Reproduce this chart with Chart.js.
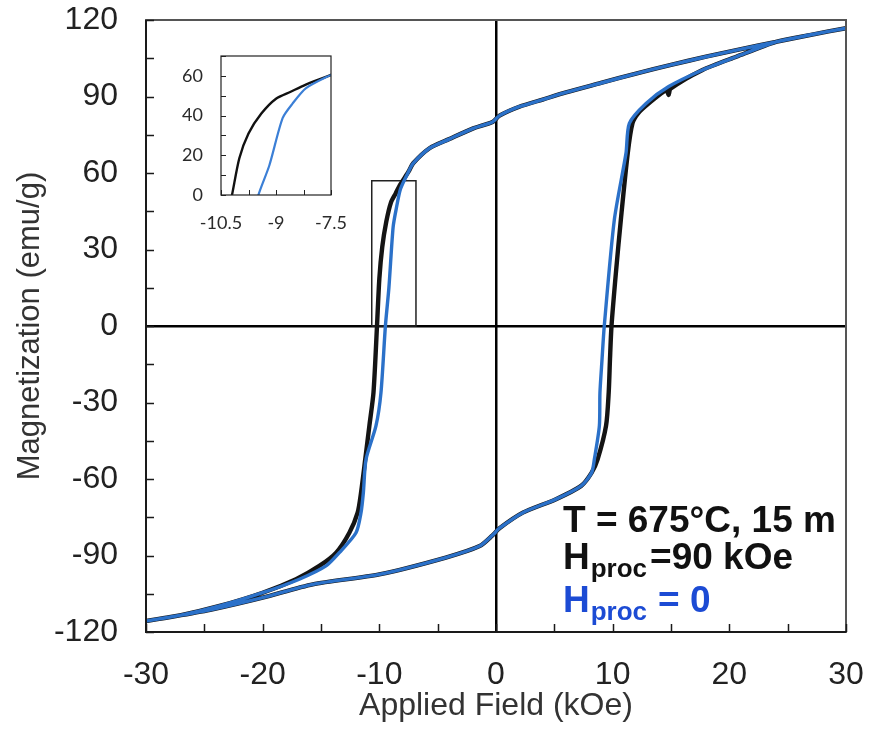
<!DOCTYPE html>
<html>
<head>
<meta charset="utf-8">
<script src="https://cdn.jsdelivr.net/npm/chart.js@4.4.0/dist/chart.umd.min.js"></script>
<style>
  html, body { margin: 0; padding: 0; background: #fff; }
  #wrap { position: relative; width: 869px; height: 731px; }
  #main { position: absolute; left: 0; top: 0; }
  #inset { position: absolute; left: 150px; top: 40px; }
</style>
</head>
<body>
<div id="wrap">
  <canvas id="main" width="869" height="731"></canvas>
  <canvas id="inset" width="200" height="200"></canvas>
</div>
<script>
// upper branch, field sweeping down from +30 kOe (both samples lie on top of each other)
const upperField  = [30, 27, 24, 21, 18, 15, 12, 9, 6, 4, 2, 0.3, -0.3, -2, -4, -5.7, -7.1, -7.5];
const upperMoment = [116.8, 114.2, 111.4, 108.6, 105.6, 102.4, 99.0, 95.3, 91.6, 88.8, 86.0, 82.5, 80.0, 77.4, 73.3, 69.7, 63.8, 60.5];

// lower branch, field sweeping up from -30 kOe (shared part)
const lowerField  = [-30, -27, -24.3, -20, -15.7, -10, -4.3, -1.4, -0.3, 0.3, 2.3, 5.1, 7.3, 8.2];
const lowerMoment = [-115.7, -113.4, -111.1, -106.5, -101.3, -97.4, -90.8, -86.3, -82.1, -79.3, -73.2, -68.0, -62.7, -57.5];

// Hproc = 90 kOe, switching parts of the loop
const blackDownField  = [-8.2, -8.6, -9.0, -9.4, -9.75, -10.0, -10.2, -10.5, -10.85, -11.2, -11.57, -11.86, -12.57, -13.7, -15.14, -17.14, -20, -23.7, -27, -30];
const blackDownMoment = [55.5, 52, 48.5, 41, 31, 18.5, 0, -26, -39, -52, -65.4, -73.2, -81.1, -88.9, -94.1, -99.3, -104.6, -109.8, -113.4, -115.7];
const blackUpField  = [8.71, 9.43, 9.66, 9.77, 9.9, 10.3, 10.7, 11.29, 11.7, 12.2, 13.1, 14.6, 14.8, 14.95, 17.7, 20.6, 24, 27, 30];
const blackUpMoment = [-52.3, -39.2, -26.1, -13, 0, 22, 41.6, 67.7, 79.5, 83.5, 87.3, 92.6, 90.6, 93.0, 100.4, 105.6, 111.4, 114.2, 116.8];

// Hproc = 0, switching parts of the loop
const blueDownField  = [-8.18, -8.55, -8.82, -9.18, -9.48, -9.86, -10.29, -11.14, -11.37, -11.57, -12.0, -13.43, -14.57, -16.86, -20, -23.7, -27, -30];
const blueDownMoment = [53.8, 46, 38.7, 15, 0, -26.1, -39.2, -52.3, -65.4, -73.2, -81.1, -88.9, -94.1, -99.3, -104.6, -109.8, -113.4, -115.7];
const blueUpField  = [8.43, 8.86, 8.91, 9.09, 9.28, 10.14, 11.14, 11.43, 12.86, 14.8, 17.7, 20.6, 24, 27, 30];
const blueUpMoment = [-52.3, -39.2, -26.1, -13, 0, 41.6, 67.7, 79.5, 87.3, 93.9, 100.4, 105.6, 111.4, 114.2, 116.8];

// zoom window marked on the main plot
const boxField  = [-10.65, -6.86, -6.86, -10.65, -10.65];
const boxMoment = [0, 0, 57, 57, 0];

const xTicks = [-30, -20, -10, 0, 10, 20, 30];
const yTicks = [-120, -90, -60, -30, 0, 30, 60, 90, 120];
const insetXTicks = [-10.5, -9, -7.5];
const insetYTicks = [0, 20, 40, 60];

function toPoints(fields, moments) {
  return fields.map((f, i) => ({ x: f, y: moments[i] }));
}

const blackLoop = toPoints(
  upperField.concat(blackDownField, lowerField, blackUpField),
  upperMoment.concat(blackDownMoment, lowerMoment, blackUpMoment)
);
const blueLoop = toPoints(
  upperField.concat(blueDownField, lowerField, blueUpField),
  upperMoment.concat(blueDownMoment, lowerMoment, blueUpMoment)
);

const BLACK = '#141414';
const BLUE = '#2b71c9';
const SANS = "'Liberation Sans', Arial, sans-serif";

// frame, inward tick marks and tick labels (labels drawn here so they
// don't push the plot area around)
const frameTicks = {
  id: 'frameTicks',
  afterDatasetsDraw(chart, args, opts) {
    const { ctx, chartArea: a, scales: { x, y } } = chart;
    ctx.save();
    ctx.strokeStyle = opts.frameColor;
    ctx.lineWidth = opts.width;
    ctx.strokeRect(a.left, a.top, a.right - a.left, a.bottom - a.top);
    if (opts.axisColor) {
      ctx.strokeStyle = opts.axisColor;
      ctx.beginPath();
      ctx.moveTo(a.left, a.top);
      ctx.lineTo(a.left, a.bottom);
      ctx.lineTo(a.right, a.bottom);
      ctx.stroke();
    }
    ctx.beginPath();
    x.ticks.forEach(t => {
      const px = Math.round(x.getPixelForValue(t.value)) + 0.5;
      ctx.moveTo(px, a.bottom);
      ctx.lineTo(px, a.bottom - opts.len);
    });
    y.ticks.forEach(t => {
      const py = Math.round(y.getPixelForValue(t.value)) + 0.5;
      ctx.moveTo(a.left, py);
      ctx.lineTo(a.left + opts.len, py);
    });
    ctx.lineWidth = opts.tickWidth;
    ctx.stroke();

    ctx.fillStyle = opts.labelColor;
    ctx.font = opts.font;
    ctx.textBaseline = 'middle';
    ctx.textAlign = 'center';
    opts.xLabels.forEach(v => {
      ctx.fillText(String(v), x.getPixelForValue(v), a.bottom + opts.xPad);
    });
    ctx.textAlign = 'right';
    opts.yLabels.forEach(v => {
      ctx.fillText(String(v), a.left - opts.yPad, y.getPixelForValue(v));
    });
    ctx.restore();
  }
};

// sample description in the lower right corner
const sampleNote = {
  id: 'sampleNote',
  afterDraw(chart) {
    const ctx = chart.ctx;
    const big = 'bold 37px ' + SANS;
    const small = 'bold 26px ' + SANS;
    ctx.save();
    ctx.textBaseline = 'alphabetic';
    ctx.textAlign = 'left';
    ctx.fillStyle = '#111';
    ctx.font = big;
    ctx.fillText('T = 675°C, 15 m', 563, 532);

    const rows = [
      { rest: '=90 kOe', gap: 3, color: '#111', base: 569 },
      { rest: '= 0', gap: 11, color: '#1c4bd4', base: 612 }
    ];
    rows.forEach(r => {
      ctx.fillStyle = r.color;
      ctx.font = big;
      ctx.fillText('H', 563, r.base);
      let x = 563 + ctx.measureText('H').width + 1;
      ctx.font = small;
      ctx.fillText('proc', x, r.base + 8);
      x += ctx.measureText('proc').width + r.gap;
      ctx.font = big;
      ctx.fillText(r.rest, x, r.base);
    });
    ctx.restore();
  }
};

const lineStyle = { showLine: true, pointRadius: 0, tension: 0.25, fill: false };

new Chart(document.getElementById('main'), {
  type: 'scatter',
  data: {
    datasets: [
      { ...lineStyle, label: 'Hproc = 0', data: blueLoop, borderColor: BLUE, borderWidth: 3.4, order: 0 },
      { ...lineStyle, label: 'Hproc = 90 kOe', data: blackLoop, borderColor: BLACK, borderWidth: 4.4, order: 1 },
      { ...lineStyle, tension: 0, label: 'zoom', data: toPoints(boxField, boxMoment), borderColor: '#222', borderWidth: 1.5, order: 2 }
    ]
  },
  options: {
    responsive: false,
    animation: false,
    layout: { padding: { left: 0, right: 23, top: 20, bottom: 0 } },
    plugins: {
      legend: { display: false },
      tooltip: { enabled: false },
      frameTicks: {
        frameColor: '#555', axisColor: '#1a1a1a', width: 2, len: 8, tickWidth: 1.5,
        labelColor: '#222', font: '32px ' + SANS,
        xLabels: xTicks, yLabels: yTicks, xPad: 43, yPad: 28
      }
    },
    scales: {
      x: {
        type: 'linear',
        min: -30, max: 30,
        afterFit: s => { s.height = 99; },
        border: { display: false },
        grid: {
          drawTicks: false,
          lineWidth: 2.5,
          color: c => (c.tick && c.tick.value === 0 ? '#000' : 'rgba(0,0,0,0)')
        },
        ticks: { stepSize: 5, display: false },
        title: {
          display: true,
          text: 'Applied Field (kOe)',
          color: '#333',
          font: { family: SANS, size: 32 },
          padding: { top: 0, bottom: 6 }
        }
      },
      y: {
        type: 'linear',
        min: -120, max: 120,
        afterFit: s => { s.width = 146; },
        border: { display: false },
        grid: {
          drawTicks: false,
          lineWidth: 2.5,
          color: c => (c.tick && c.tick.value === 0 ? '#000' : 'rgba(0,0,0,0)')
        },
        ticks: { stepSize: 15, display: false },
        title: {
          display: true,
          text: 'Magnetization (emu/g)',
          color: '#333',
          font: { family: SANS, size: 31 },
          padding: { top: 12, bottom: 0 }
        }
      }
    }
  },
  plugins: [frameTicks, sampleNote]
});

// inset: close-up of the coercive region on the descending branch
new Chart(document.getElementById('inset'), {
  type: 'scatter',
  data: {
    datasets: [
      { ...lineStyle, data: blueLoop, borderColor: '#3b7fd6', borderWidth: 2.2, order: 0 },
      { ...lineStyle, data: blackLoop, borderColor: '#111', borderWidth: 2.4, order: 1 }
    ]
  },
  options: {
    responsive: false,
    animation: false,
    layout: { padding: { left: 0, right: 19, top: 16, bottom: 0 } },
    plugins: {
      legend: { display: false },
      tooltip: { enabled: false },
      frameTicks: {
        frameColor: '#222', width: 1.2, len: 5, tickWidth: 1,
        labelColor: '#2a2a2a', font: "18px Lato, 'Open Sans', sans-serif",
        xLabels: insetXTicks, yLabels: insetYTicks, xPad: 28, yPad: 18
      }
    },
    scales: {
      x: {
        type: 'linear',
        min: -10.5, max: -7.5,
        afterFit: s => { s.height = 45; },
        border: { display: false },
        grid: { display: false, drawTicks: false },
        ticks: { stepSize: 0.75, display: false }
      },
      y: {
        type: 'linear',
        min: 0, max: 70,
        afterFit: s => { s.width = 71; },
        border: { display: false },
        grid: { display: false, drawTicks: false },
        ticks: { stepSize: 10, display: false }
      }
    }
  },
  plugins: [frameTicks]
});
</script>
</body>
</html>
